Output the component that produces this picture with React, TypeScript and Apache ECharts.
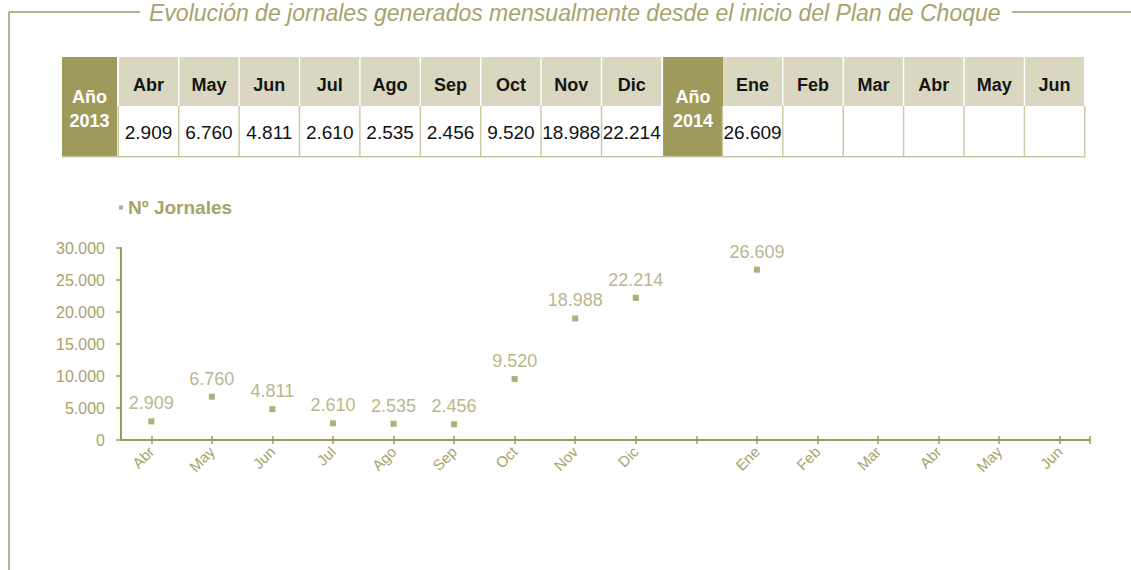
import React, { useEffect, useRef } from 'react';
import * as echarts from 'echarts';

const titleText = 'Evolución de jornales generados mensualmente desde el inicio del Plan de Choque';
const seriesName = 'Nº Jornales';
const year2013Label = ['Año', '2013'];
const year2014Label = ['Año', '2014'];
const months2013 = ['Abr', 'May', 'Jun', 'Jul', 'Ago', 'Sep', 'Oct', 'Nov', 'Dic'];
const values2013: (number | null)[] = [2909, 6760, 4811, 2610, 2535, 2456, 9520, 18988, 22214];
const months2014 = ['Ene', 'Feb', 'Mar', 'Abr', 'May', 'Jun'];
const values2014: (number | null)[] = [26609, null, null, null, null, null];
const yMin = 0;
const yMax = 30000;
const yStep = 5000;

const OLIVE = '#9e9a5b';
const TEXT_OLIVE = '#a6a36c';
const HEAD_LIGHT = '#d9d7bf';
const BORDER = '#c9c6a2';
const FONT = '"Liberation Sans Narrow", "Liberation Sans", Arial, sans-serif';

const fmt = (n: number | null) =>
  n == null ? '' : String(n).replace(/\B(?=(\d{3})+(?!\d))/g, '.');

export default function App() {
  const ref = useRef<HTMLDivElement>(null);

  useEffect(() => {
    if (!ref.current) return;
    const chart = echarts.init(ref.current, undefined, { renderer: 'svg' });

    const categories = [...months2013, '', ...months2014];
    const values = [...values2013, null, ...values2014];

    const gridLeft = 121;
    const gridRight = 41;
    const gridTop = 248;
    const gridBottom = 130;
    const W = 1131;
    const H = 570;

    // table layout
    const tTop = 57;
    const headH = 49;
    const rowH = 50;
    const step = 60.4;
    const cellW = 59;
    const els: any[] = [];

    const headerCell = (x: number, label: string) => {
      els.push({ type: 'rect', shape: { x, y: tTop, width: cellW, height: headH }, style: { fill: HEAD_LIGHT } });
      els.push({
        type: 'text', x: x + cellW / 2, y: tTop + headH / 2 + 3,
        style: { text: label, fill: '#151515', font: `bold 18px ${FONT}`, align: 'center', verticalAlign: 'middle' },
      });
    };
    const dataCell = (x: number, v: number | null) => {
      els.push({ type: 'rect', shape: { x, y: tTop + headH, width: cellW, height: rowH }, style: { fill: '#fff' } });
      els.push({
        type: 'text', x: x + cellW / 2, y: tTop + headH + rowH / 2 + 1,
        style: { text: fmt(v), fill: '#111', font: `19px ${FONT}`, align: 'center', verticalAlign: 'middle' },
      });
    };
    const yearCell = (x: number, w: number, lines: string[]) => {
      els.push({ type: 'rect', shape: { x, y: tTop, width: w, height: headH + rowH }, style: { fill: OLIVE } });
      els.push({
        type: 'text', x: x + w / 2, y: tTop + 40,
        style: { text: lines[0], fill: '#fff', font: `bold 18px ${FONT}`, align: 'center', verticalAlign: 'middle' },
      });
      els.push({
        type: 'text', x: x + w / 2, y: tTop + 64,
        style: { text: lines[1], fill: '#fff', font: `bold 18px ${FONT}`, align: 'center', verticalAlign: 'middle' },
      });
    };

    yearCell(62, 55, year2013Label);
    const start2013 = 119;
    months2013.forEach((m, i) => {
      const x = start2013 + i * step;
      headerCell(x, m);
      dataCell(x, values2013[i]);
    });
    const x2014 = start2013 + months2013.length * step + 0.5;
    yearCell(x2014, 60, year2014Label);
    const start2014 = x2014 + 60;
    months2014.forEach((m, i) => {
      const x = start2014 + i * step;
      headerCell(x, m);
      dataCell(x, values2014[i]);
    });
    // data row borders
    const rowY0 = tTop + headH;
    const rowY1 = tTop + headH + rowH;
    const bordersX: number[] = [];
    months2013.forEach((_, i) => bordersX.push(start2013 + i * step - 0.7));
    months2014.forEach((_, i) => bordersX.push(start2014 + i * step - 0.7));
    bordersX.push(start2014 + (months2014.length - 1) * step + cellW + 0.7);
    bordersX.forEach((x) =>
      els.push({ type: 'line', shape: { x1: x, y1: rowY0, x2: x, y2: rowY1 }, style: { stroke: BORDER, lineWidth: 1.4 } })
    );
    els.push({
      type: 'line',
      shape: { x1: 62, y1: rowY1 + 0.8, x2: start2014 + (months2014.length - 1) * step + cellW + 1.4, y2: rowY1 + 0.8 },
      style: { stroke: BORDER, lineWidth: 1.6 },
    });

    // frame + title
    els.push({ type: 'line', shape: { x1: 9, y1: 12, x2: 140, y2: 12 }, style: { stroke: OLIVE, lineWidth: 1.5 } });
    els.push({ type: 'line', shape: { x1: 1012, y1: 12, x2: W, y2: 12 }, style: { stroke: OLIVE, lineWidth: 1.5 } });
    els.push({ type: 'line', shape: { x1: 9, y1: 12, x2: 9, y2: H }, style: { stroke: OLIVE, lineWidth: 1.5 } });
    els.push({
      type: 'text', x: 149, y: 13,
      style: { text: titleText, fill: TEXT_OLIVE, font: `italic 23px ${FONT}`, align: 'left', verticalAlign: 'middle' },
    });

    // end tick of x axis
    const xEnd = W - gridRight;
    const yAxisBase = H - gridBottom;
    els.push({ type: 'line', shape: { x1: xEnd, y1: yAxisBase - 4, x2: xEnd, y2: yAxisBase + 4 }, style: { stroke: OLIVE, lineWidth: 1.5 } });

    chart.setOption({
      animation: false,
      textStyle: { fontFamily: FONT },
      legend: {
        left: 114,
        top: 193,
        icon: 'rect',
        itemWidth: 4,
        itemHeight: 4,
        itemGap: 7,
        data: [seriesName],
        textStyle: { color: TEXT_OLIVE, fontSize: 19, fontWeight: 'bold', fontFamily: FONT },
      },
      grid: { left: gridLeft, right: gridRight, top: gridTop, bottom: gridBottom },
      xAxis: [
        {
          type: 'category',
          data: categories,
          boundaryGap: true,
          axisLine: { show: true, lineStyle: { color: OLIVE, width: 2 } },
          axisTick: { show: true, interval: 0, alignWithLabel: true, length: 4, lineStyle: { color: OLIVE, width: 1.5 } },
          axisLabel: { rotate: 45, color: TEXT_OLIVE, fontSize: 15, margin: 9, fontFamily: FONT, interval: 0 },
        },
        {
          type: 'category',
          data: categories,
          position: 'bottom',
          boundaryGap: true,
          axisLine: { show: false },
          axisTick: { show: true, interval: 0, alignWithLabel: true, inside: true, length: 4, lineStyle: { color: OLIVE, width: 1.5 } },
          axisLabel: { show: false },
        },
      ],
      yAxis: {
        type: 'value',
        min: yMin,
        max: yMax,
        interval: yStep,
        splitLine: { show: false },
        axisLine: { show: true, lineStyle: { color: OLIVE, width: 2 } },
        axisTick: { show: true, length: 5, lineStyle: { color: OLIVE, width: 1.5 } },
        axisLabel: { color: TEXT_OLIVE, fontSize: 16, margin: 16, fontFamily: FONT, formatter: (v: number) => fmt(v) },
      },
      series: [
        {
          name: seriesName,
          type: 'scatter',
          data: values,
          symbol: 'rect',
          symbolSize: 6,
          itemStyle: { color: OLIVE },
          label: {
            show: true,
            position: 'top',
            distance: 6,
            color: TEXT_OLIVE,
            fontSize: 18,
            fontFamily: FONT,
            formatter: (p: any) => fmt(p.value),
          },
        },
      ],
      graphic: { elements: els },
    });

    return () => chart.dispose();
  }, []);

  return (
    <div
      ref={ref}
      style={{ position: 'absolute', left: 0, top: 0, width: 1131, height: 570, background: '#fff' }}
    />
  );
}
